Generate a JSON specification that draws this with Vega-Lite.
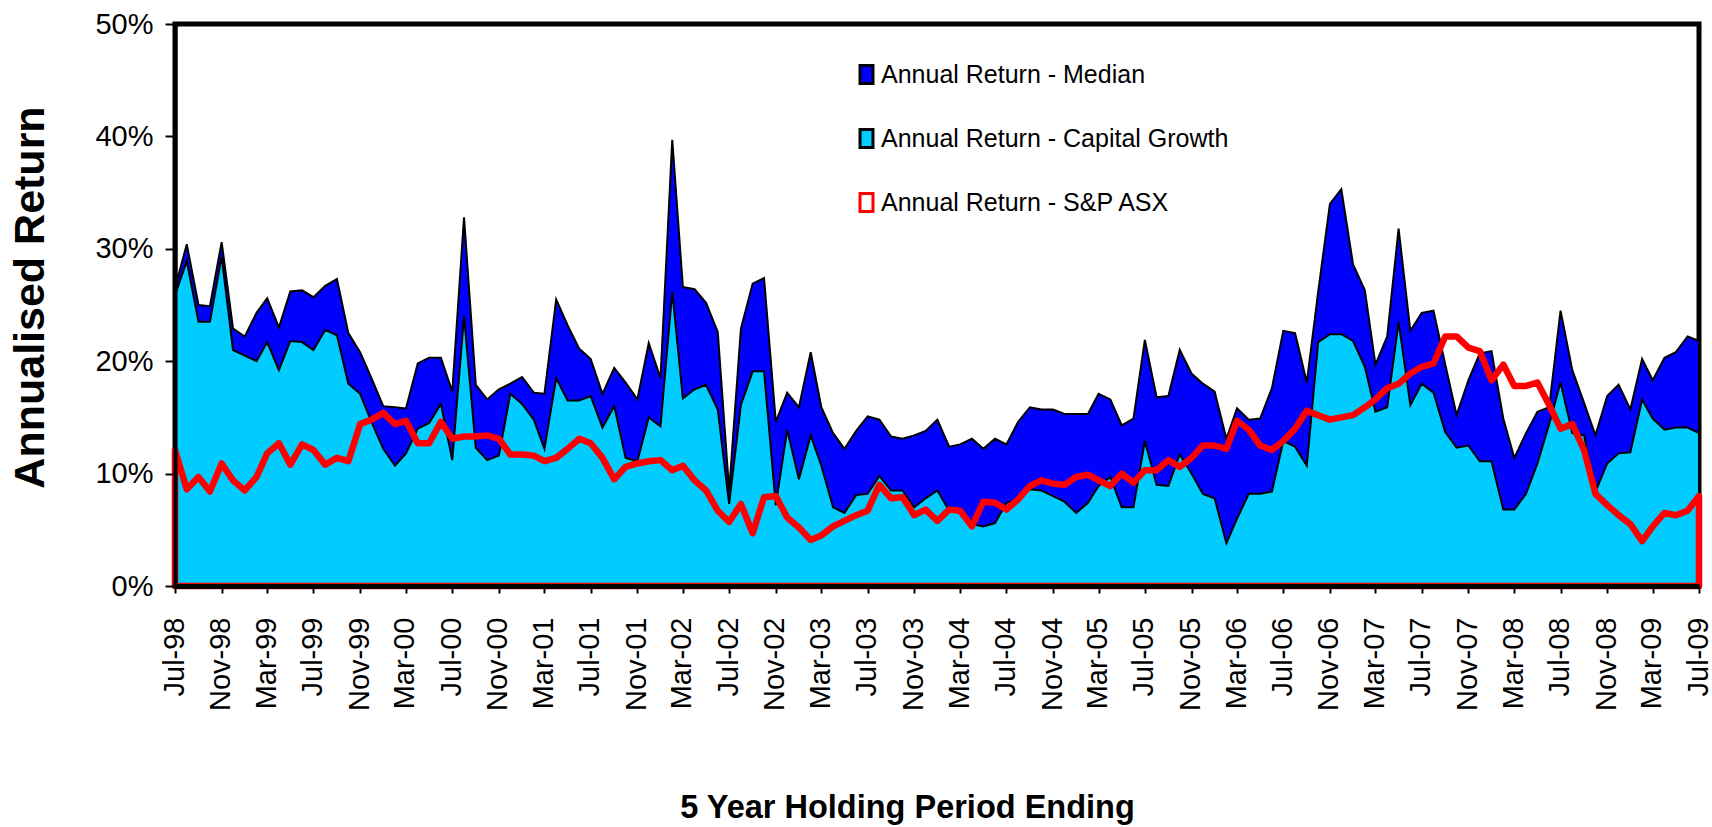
{
  "$schema": "https://vega.github.io/schema/vega-lite/v6.json",
  "autosize": {"type": "none"},
  "padding": {"left": 175, "top": 24, "right": 13, "bottom": 241},
  "width": 1524,
  "height": 562,
  "background": "white",
  "config": {
    "view": {"stroke": "black", "strokeWidth": 5},
    "legend": {
      "orient": "none",
      "legendX": 647,
      "legendY": 6,
      "direction": "vertical",
      "fillColor": "white",
      "padding": 32,
      "rowPadding": 33,
      "labelFont": "Liberation Sans",
      "labelFontSize": 25,
      "labelColor": "black",
      "labelOffset": 2,
      "labelLimit": 700,
      "symbolType": "M-0.72,-1H0.72V1H-0.72Z",
      "symbolSize": 324,
      "symbolStrokeWidth": 3,
      "title": null
    }
  },
  "datasets": {
    "main": [
      {"d": "1998-07-01", "median": 26.5, "capital": 25.9, "asx": 12.1},
      {"d": "1998-08-01", "median": 30.4, "capital": 28.9, "asx": 8.6},
      {"d": "1998-09-01", "median": 25.0, "capital": 23.5, "asx": 9.7},
      {"d": "1998-10-01", "median": 24.9, "capital": 23.5, "asx": 8.4},
      {"d": "1998-11-01", "median": 30.6, "capital": 29.3, "asx": 10.9},
      {"d": "1998-12-01", "median": 22.9, "capital": 21.0, "asx": 9.4},
      {"d": "1999-01-01", "median": 22.2, "capital": 20.5, "asx": 8.5},
      {"d": "1999-02-01", "median": 24.3, "capital": 20.0, "asx": 9.7},
      {"d": "1999-03-01", "median": 25.6, "capital": 21.7, "asx": 11.8},
      {"d": "1999-04-01", "median": 23.0, "capital": 19.2, "asx": 12.7},
      {"d": "1999-05-01", "median": 26.2, "capital": 21.8, "asx": 10.8},
      {"d": "1999-06-01", "median": 26.3, "capital": 21.7, "asx": 12.6},
      {"d": "1999-07-01", "median": 25.7, "capital": 21.0, "asx": 12.1},
      {"d": "1999-08-01", "median": 26.7, "capital": 22.8, "asx": 10.8},
      {"d": "1999-09-01", "median": 27.3, "capital": 22.3, "asx": 11.4},
      {"d": "1999-10-01", "median": 22.5, "capital": 18.0, "asx": 11.1},
      {"d": "1999-11-01", "median": 20.8, "capital": 17.1, "asx": 14.4},
      {"d": "1999-12-01", "median": 18.5, "capital": 14.6, "asx": 14.8},
      {"d": "2000-01-01", "median": 16.0, "capital": 12.2, "asx": 15.4},
      {"d": "2000-02-01", "median": 15.9, "capital": 10.7, "asx": 14.4},
      {"d": "2000-03-01", "median": 15.8, "capital": 11.8, "asx": 14.7},
      {"d": "2000-04-01", "median": 19.8, "capital": 14.0, "asx": 12.7},
      {"d": "2000-05-01", "median": 20.3, "capital": 14.5, "asx": 12.7},
      {"d": "2000-06-01", "median": 20.3, "capital": 16.2, "asx": 14.6},
      {"d": "2000-07-01", "median": 17.3, "capital": 11.2, "asx": 13.1},
      {"d": "2000-08-01", "median": 32.8, "capital": 24.0, "asx": 13.3},
      {"d": "2000-09-01", "median": 17.9, "capital": 12.3, "asx": 13.3},
      {"d": "2000-10-01", "median": 16.6, "capital": 11.2, "asx": 13.4},
      {"d": "2000-11-01", "median": 17.5, "capital": 11.6, "asx": 13.1},
      {"d": "2000-12-01", "median": 18.0, "capital": 17.1, "asx": 11.7},
      {"d": "2001-01-01", "median": 18.6, "capital": 16.2, "asx": 11.7},
      {"d": "2001-02-01", "median": 17.2, "capital": 14.8, "asx": 11.6},
      {"d": "2001-03-01", "median": 17.1, "capital": 12.2, "asx": 11.1},
      {"d": "2001-04-01", "median": 25.5, "capital": 18.5, "asx": 11.4},
      {"d": "2001-05-01", "median": 23.2, "capital": 16.5, "asx": 12.2},
      {"d": "2001-06-01", "median": 21.1, "capital": 16.5, "asx": 13.1},
      {"d": "2001-07-01", "median": 20.2, "capital": 16.9, "asx": 12.7},
      {"d": "2001-08-01", "median": 17.1, "capital": 14.1, "asx": 11.4},
      {"d": "2001-09-01", "median": 19.4, "capital": 16.0, "asx": 9.5},
      {"d": "2001-10-01", "median": 18.1, "capital": 11.4, "asx": 10.6},
      {"d": "2001-11-01", "median": 16.6, "capital": 11.1, "asx": 10.9},
      {"d": "2001-12-01", "median": 21.6, "capital": 15.0, "asx": 11.1},
      {"d": "2002-01-01", "median": 18.5, "capital": 14.2, "asx": 11.2},
      {"d": "2002-02-01", "median": 39.7, "capital": 26.2, "asx": 10.3},
      {"d": "2002-03-01", "median": 26.6, "capital": 16.7, "asx": 10.7},
      {"d": "2002-04-01", "median": 26.4, "capital": 17.5, "asx": 9.4},
      {"d": "2002-05-01", "median": 25.2, "capital": 17.9, "asx": 8.5},
      {"d": "2002-06-01", "median": 22.6, "capital": 15.7, "asx": 6.7},
      {"d": "2002-07-01", "median": 8.5, "capital": 7.3, "asx": 5.7},
      {"d": "2002-08-01", "median": 22.9, "capital": 16.1, "asx": 7.3},
      {"d": "2002-09-01", "median": 26.9, "capital": 19.1, "asx": 4.7},
      {"d": "2002-10-01", "median": 27.4, "capital": 19.1, "asx": 7.9},
      {"d": "2002-11-01", "median": 14.6, "capital": 7.2, "asx": 8.0},
      {"d": "2002-12-01", "median": 17.2, "capital": 13.9, "asx": 6.1},
      {"d": "2003-01-01", "median": 15.9, "capital": 9.5, "asx": 5.2},
      {"d": "2003-02-01", "median": 20.8, "capital": 13.4, "asx": 4.1},
      {"d": "2003-03-01", "median": 15.9, "capital": 10.7, "asx": 4.5},
      {"d": "2003-04-01", "median": 13.6, "capital": 7.0, "asx": 5.3},
      {"d": "2003-05-01", "median": 12.2, "capital": 6.5, "asx": 5.8},
      {"d": "2003-06-01", "median": 13.8, "capital": 8.1, "asx": 6.3},
      {"d": "2003-07-01", "median": 15.1, "capital": 8.2, "asx": 6.7},
      {"d": "2003-08-01", "median": 14.8, "capital": 9.8, "asx": 9.0},
      {"d": "2003-09-01", "median": 13.3, "capital": 8.5, "asx": 7.8},
      {"d": "2003-10-01", "median": 13.1, "capital": 8.5, "asx": 7.9},
      {"d": "2003-11-01", "median": 13.4, "capital": 7.0, "asx": 6.3},
      {"d": "2003-12-01", "median": 13.8, "capital": 7.8, "asx": 6.8},
      {"d": "2004-01-01", "median": 14.8, "capital": 8.5, "asx": 5.8},
      {"d": "2004-02-01", "median": 12.4, "capital": 6.7, "asx": 6.8},
      {"d": "2004-03-01", "median": 12.6, "capital": 6.5, "asx": 6.7},
      {"d": "2004-04-01", "median": 13.1, "capital": 5.5, "asx": 5.3},
      {"d": "2004-05-01", "median": 12.2, "capital": 5.3, "asx": 7.5},
      {"d": "2004-06-01", "median": 13.1, "capital": 5.6, "asx": 7.4},
      {"d": "2004-07-01", "median": 12.6, "capital": 7.4, "asx": 6.8},
      {"d": "2004-08-01", "median": 14.6, "capital": 7.7, "asx": 7.7},
      {"d": "2004-09-01", "median": 15.9, "capital": 8.6, "asx": 8.9},
      {"d": "2004-10-01", "median": 15.7, "capital": 8.5, "asx": 9.4},
      {"d": "2004-11-01", "median": 15.7, "capital": 8.0, "asx": 9.1},
      {"d": "2004-12-01", "median": 15.3, "capital": 7.5, "asx": 9.0},
      {"d": "2005-01-01", "median": 15.3, "capital": 6.5, "asx": 9.7},
      {"d": "2005-02-01", "median": 15.3, "capital": 7.4, "asx": 9.9},
      {"d": "2005-03-01", "median": 17.1, "capital": 8.9, "asx": 9.4},
      {"d": "2005-04-01", "median": 16.6, "capital": 9.7, "asx": 8.9},
      {"d": "2005-05-01", "median": 14.3, "capital": 7.0, "asx": 10.0},
      {"d": "2005-06-01", "median": 14.9, "capital": 7.0, "asx": 9.2},
      {"d": "2005-07-01", "median": 21.9, "capital": 12.9, "asx": 10.3},
      {"d": "2005-08-01", "median": 16.8, "capital": 9.0, "asx": 10.3},
      {"d": "2005-09-01", "median": 16.9, "capital": 8.9, "asx": 11.2},
      {"d": "2005-10-01", "median": 21.0, "capital": 11.7, "asx": 10.6},
      {"d": "2005-11-01", "median": 18.9, "capital": 10.0, "asx": 11.4},
      {"d": "2005-12-01", "median": 18.0, "capital": 8.2, "asx": 12.5},
      {"d": "2006-01-01", "median": 17.3, "capital": 7.8, "asx": 12.5},
      {"d": "2006-02-01", "median": 13.1, "capital": 3.8, "asx": 12.2},
      {"d": "2006-03-01", "median": 15.8, "capital": 6.0, "asx": 14.7},
      {"d": "2006-04-01", "median": 14.8, "capital": 8.2, "asx": 13.9},
      {"d": "2006-05-01", "median": 14.9, "capital": 8.2, "asx": 12.5},
      {"d": "2006-06-01", "median": 17.6, "capital": 8.4, "asx": 12.1},
      {"d": "2006-07-01", "median": 22.7, "capital": 12.9, "asx": 12.9},
      {"d": "2006-08-01", "median": 22.5, "capital": 12.4, "asx": 14.0},
      {"d": "2006-09-01", "median": 18.1, "capital": 10.7, "asx": 15.6},
      {"d": "2006-10-01", "median": 26.2, "capital": 21.7, "asx": 15.2},
      {"d": "2006-11-01", "median": 34.0, "capital": 22.4, "asx": 14.8},
      {"d": "2006-12-01", "median": 35.3, "capital": 22.4, "asx": 15.0},
      {"d": "2007-01-01", "median": 28.6, "capital": 21.8, "asx": 15.2},
      {"d": "2007-02-01", "median": 26.3, "capital": 19.5, "asx": 15.9},
      {"d": "2007-03-01", "median": 19.7, "capital": 15.5, "asx": 16.6},
      {"d": "2007-04-01", "median": 22.2, "capital": 15.9, "asx": 17.6},
      {"d": "2007-05-01", "median": 31.8, "capital": 23.5, "asx": 18.0},
      {"d": "2007-06-01", "median": 22.7, "capital": 16.1, "asx": 18.9},
      {"d": "2007-07-01", "median": 24.3, "capital": 18.0, "asx": 19.5},
      {"d": "2007-08-01", "median": 24.5, "capital": 17.2, "asx": 19.8},
      {"d": "2007-09-01", "median": 19.7, "capital": 13.7, "asx": 22.2},
      {"d": "2007-10-01", "median": 15.2, "capital": 12.3, "asx": 22.2},
      {"d": "2007-11-01", "median": 18.3, "capital": 12.5, "asx": 21.2},
      {"d": "2007-12-01", "median": 20.7, "capital": 11.1, "asx": 20.9},
      {"d": "2008-01-01", "median": 20.9, "capital": 11.1, "asx": 18.3},
      {"d": "2008-02-01", "median": 14.9, "capital": 6.8, "asx": 19.7},
      {"d": "2008-03-01", "median": 11.4, "capital": 6.8, "asx": 17.8},
      {"d": "2008-04-01", "median": 13.6, "capital": 8.2, "asx": 17.8},
      {"d": "2008-05-01", "median": 15.5, "capital": 10.9, "asx": 18.1},
      {"d": "2008-06-01", "median": 15.9, "capital": 14.4, "asx": 16.1},
      {"d": "2008-07-01", "median": 24.5, "capital": 18.1, "asx": 14.0},
      {"d": "2008-08-01", "median": 19.2, "capital": 13.6, "asx": 14.4},
      {"d": "2008-09-01", "median": 16.3, "capital": 13.4, "asx": 12.1},
      {"d": "2008-10-01", "median": 13.4, "capital": 8.4, "asx": 8.2},
      {"d": "2008-11-01", "median": 16.9, "capital": 10.9, "asx": 7.2},
      {"d": "2008-12-01", "median": 17.9, "capital": 11.8, "asx": 6.3},
      {"d": "2009-01-01", "median": 15.7, "capital": 11.9, "asx": 5.5},
      {"d": "2009-02-01", "median": 20.2, "capital": 16.6, "asx": 4.0},
      {"d": "2009-03-01", "median": 18.3, "capital": 14.9, "asx": 5.3},
      {"d": "2009-04-01", "median": 20.3, "capital": 13.9, "asx": 6.5},
      {"d": "2009-05-01", "median": 20.8, "capital": 14.1, "asx": 6.3},
      {"d": "2009-06-01", "median": 22.2, "capital": 14.1, "asx": 6.7},
      {"d": "2009-07-01", "median": 21.8, "capital": 13.6, "asx": 8.0}
    ],
    "grid": [{"v": 10}, {"v": 20}, {"v": 30}, {"v": 40}]
  },
  "layer": [
    {
      "data": {"name": "grid"},
      "mark": {"type": "rule", "color": "black", "strokeWidth": 2.2},
      "encoding": {
        "y": {"field": "v", "type": "quantitative", "scale": {"domain": [0, 50], "nice": false}}
      }
    },
    {
      "data": {"name": "main"},
      "transform": [
        {"fold": ["median", "capital", "asx"], "as": ["series", "value"]},
        {"filter": "datum.series == 'median'"}
      ],
      "mark": {"type": "area", "strokeWidth": 2, "strokeJoin": "miter", "fillOpacity": 1},
      "encoding": {
        "x": {"field": "d", "type": "temporal"},
        "y": {"field": "value", "type": "quantitative", "stack": null},
        "fill": {"field": "series", "type": "nominal"},
        "stroke": {"field": "series", "type": "nominal"}
      }
    },
    {
      "data": {"name": "main"},
      "transform": [
        {"fold": ["median", "capital", "asx"], "as": ["series", "value"]},
        {"filter": "datum.series == 'capital'"}
      ],
      "mark": {"type": "area", "strokeWidth": 2, "strokeJoin": "miter", "fillOpacity": 1},
      "encoding": {
        "x": {"field": "d", "type": "temporal"},
        "y": {"field": "value", "type": "quantitative", "stack": null},
        "fill": {"field": "series", "type": "nominal"},
        "stroke": {"field": "series", "type": "nominal"}
      }
    },
    {
      "data": {"name": "main"},
      "transform": [
        {"fold": ["median", "capital", "asx"], "as": ["series", "value"]},
        {"filter": "datum.series == 'asx'"}
      ],
      "mark": {"type": "area", "strokeWidth": 6.5, "strokeJoin": "round", "fillOpacity": 0},
      "encoding": {
        "x": {"field": "d", "type": "temporal"},
        "y": {"field": "value", "type": "quantitative", "stack": null},
        "fill": {"field": "series", "type": "nominal"},
        "stroke": {"field": "series", "type": "nominal"}
      }
    }
  ],
  "encoding": {
    "x": {
      "field": "d",
      "type": "temporal",
      "scale": {"type": "utc", "nice": false, "domain": [{"year": 1998, "month": 7, "date": 1, "utc": true}, {"year": 2009, "month": 7, "date": 1, "utc": true}]},
      "axis": {
        "title": "5 Year Holding Period Ending",
        "titleFont": "Liberation Sans",
        "titleFontWeight": "bold",
        "titleFontSize": 32.5,
        "titleColor": "black",
        "titleX": 732,
        "titleY": 231,
        "titleAlign": "center",
        "titleBaseline": "alphabetic",
        "values": [
          {"year": 1998, "month": 7, "date": 1, "utc": true}, {"year": 1998, "month": 11, "date": 1, "utc": true},
          {"year": 1999, "month": 3, "date": 1, "utc": true}, {"year": 1999, "month": 7, "date": 1, "utc": true}, {"year": 1999, "month": 11, "date": 1, "utc": true},
          {"year": 2000, "month": 3, "date": 1, "utc": true}, {"year": 2000, "month": 7, "date": 1, "utc": true}, {"year": 2000, "month": 11, "date": 1, "utc": true},
          {"year": 2001, "month": 3, "date": 1, "utc": true}, {"year": 2001, "month": 7, "date": 1, "utc": true}, {"year": 2001, "month": 11, "date": 1, "utc": true},
          {"year": 2002, "month": 3, "date": 1, "utc": true}, {"year": 2002, "month": 7, "date": 1, "utc": true}, {"year": 2002, "month": 11, "date": 1, "utc": true},
          {"year": 2003, "month": 3, "date": 1, "utc": true}, {"year": 2003, "month": 7, "date": 1, "utc": true}, {"year": 2003, "month": 11, "date": 1, "utc": true},
          {"year": 2004, "month": 3, "date": 1, "utc": true}, {"year": 2004, "month": 7, "date": 1, "utc": true}, {"year": 2004, "month": 11, "date": 1, "utc": true},
          {"year": 2005, "month": 3, "date": 1, "utc": true}, {"year": 2005, "month": 7, "date": 1, "utc": true}, {"year": 2005, "month": 11, "date": 1, "utc": true},
          {"year": 2006, "month": 3, "date": 1, "utc": true}, {"year": 2006, "month": 7, "date": 1, "utc": true}, {"year": 2006, "month": 11, "date": 1, "utc": true},
          {"year": 2007, "month": 3, "date": 1, "utc": true}, {"year": 2007, "month": 7, "date": 1, "utc": true}, {"year": 2007, "month": 11, "date": 1, "utc": true},
          {"year": 2008, "month": 3, "date": 1, "utc": true}, {"year": 2008, "month": 7, "date": 1, "utc": true}, {"year": 2008, "month": 11, "date": 1, "utc": true},
          {"year": 2009, "month": 3, "date": 1, "utc": true}, {"year": 2009, "month": 7, "date": 1, "utc": true}
        ],
        "labelExpr": "utcFormat(datum.value, '%b-%y')",
        "labelAngle": 270,
        "labelFont": "Liberation Sans",
        "labelFontSize": 29,
        "labelColor": "black",
        "labelPadding": 24,
        "labelOffset": -1,
        "labelOverlap": false,
        "labelBound": false,
        "labelFlush": false,
        "tickSize": 7,
        "tickWidth": 2,
        "tickColor": "black",
        "domainColor": "black",
        "domainWidth": 5,
        "grid": false,
        "zindex": 1
      }
    },
    "y": {
      "field": "value",
      "type": "quantitative",
      "scale": {"domain": [0, 50], "nice": false},
      "axis": {
        "title": "Annualised Return",
        "titleFont": "Liberation Sans",
        "titleFontWeight": "bold",
        "titleFontSize": 43,
        "titleColor": "black",
        "titleAngle": 270,
        "titleX": -145,
        "titleY": 273,
        "titleAlign": "center",
        "titleBaseline": "middle",
        "values": [0, 10, 20, 30, 40, 50],
        "labelExpr": "datum.value + '%'",
        "labelFont": "Liberation Sans",
        "labelFontSize": 29,
        "labelColor": "black",
        "labelPadding": 12,
        "labelFlush": false,
        "tickSize": 10,
        "tickWidth": 2,
        "tickColor": "black",
        "domainColor": "black",
        "domainWidth": 4,
        "grid": false,
        "zindex": 1
      }
    },
    "fill": {
      "field": "series",
      "type": "nominal",
      "scale": {"domain": ["median", "capital", "asx"], "range": ["#0000FF", "#00CCFF", "#FFFFFF"]},
      "legend": {
        "labelExpr": "datum.value == 'median' ? 'Annual Return - Median' : datum.value == 'capital' ? 'Annual Return - Capital Growth' : 'Annual Return - S&P ASX'"
      }
    },
    "stroke": {
      "field": "series",
      "type": "nominal",
      "scale": {"domain": ["median", "capital", "asx"], "range": ["#000000", "#000000", "#FF0000"]},
      "legend": {
        "labelExpr": "datum.value == 'median' ? 'Annual Return - Median' : datum.value == 'capital' ? 'Annual Return - Capital Growth' : 'Annual Return - S&P ASX'"
      }
    }
  }
}
